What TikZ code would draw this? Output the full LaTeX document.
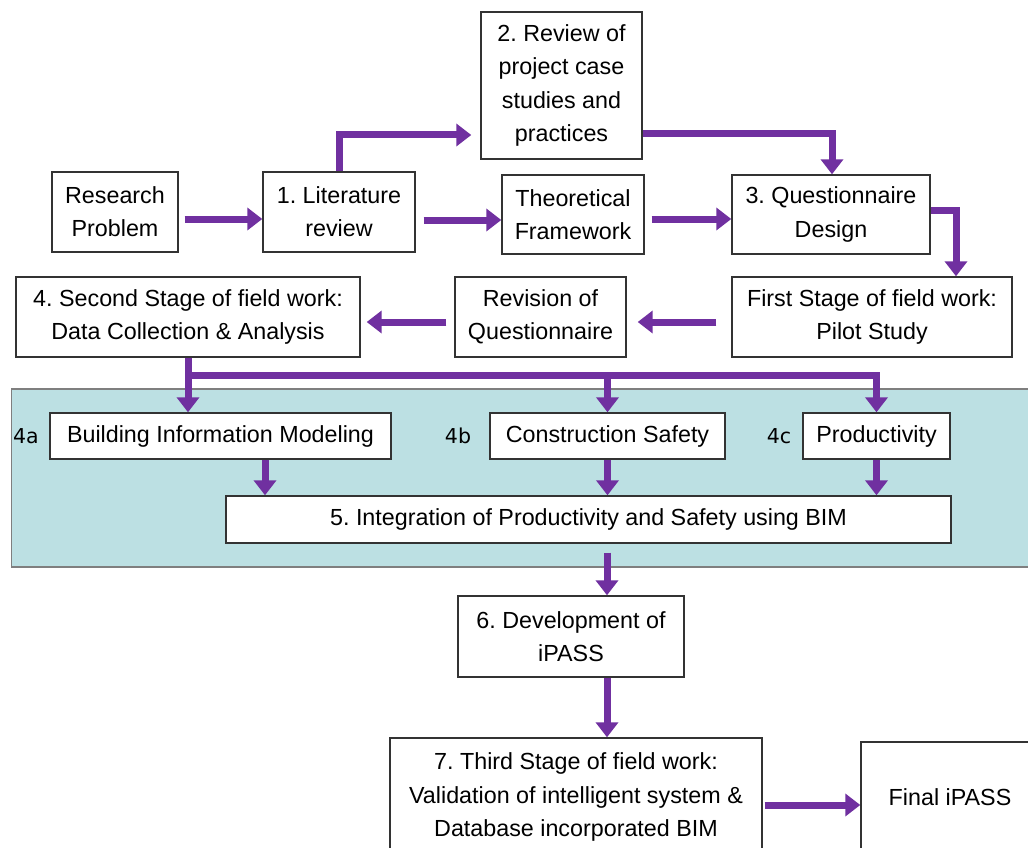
\documentclass[tikz,border=0pt]{standalone}
\usepackage{fontspec}
\setmainfont{Liberation Sans}
\newfontfamily\labfont{DejaVu Sans}
\usetikzlibrary{arrows.meta,calc}
\definecolor{arrowpurple}{HTML}{7030A0}
\definecolor{bandcyan}{HTML}{BCE0E3}
\definecolor{boxline}{HTML}{333333}
\definecolor{bandline}{HTML}{7F7F7F}
\frenchspacing
\begin{document}
\begin{tikzpicture}[x=1pt,y=-1pt,
  stepbox/.style={draw=boxline,line width=1.4pt,fill=white,inner sep=0pt,align=center,
    font=\fontsize{23.3}{33.3}\selectfont},
  arr/.style={draw=arrowpurple,line width=7pt,-{Triangle[length=15pt,width=22pt]}},
  barline/.style={draw=arrowpurple,line width=7pt,line cap=rect},
  lab/.style={font=\labfont\fontsize{20.5}{24}\selectfont,inner sep=0pt}]
\useasboundingbox (0,0) rectangle (1028,848);
\fill[white] (0,0) rectangle (1028,848);
% band
\filldraw[fill=bandcyan,draw=bandline,line width=1.5pt] (11.5,389) rectangle (1040,567);
% boxes
\node[stepbox,minimum width=126pt,minimum height=80pt] (rp) at (115,212) {Research\\Problem};
\node[stepbox,minimum width=152pt,minimum height=80pt] (lit) at (339,212) {1. Literature\\review};
\node[stepbox,minimum width=161pt,minimum height=147pt] (rev2) at (561.5,85.5) {2. Review of\\project case\\studies and\\practices};
\node[stepbox,minimum width=142pt,minimum height=79pt] (tf) at (573,214.5) {Theoretical\\Framework};
\node[stepbox,minimum width=198pt,minimum height=79pt] (q3) at (831,214.5) {3. Questionnaire\\Design};
\node[stepbox,minimum width=280pt,minimum height=80pt] (fs) at (872,317) {First Stage of field work:\\Pilot Study};
\node[stepbox,minimum width=171pt,minimum height=80pt] (rq) at (540.5,317) {Revision of\\Questionnaire};
\node[stepbox,minimum width=344pt,minimum height=80pt] (s4) at (188,317) {4. Second Stage of field work:\\Data Collection \& Analysis};
\node[stepbox,minimum width=341pt,minimum height=46pt] (bim) at (220.5,436) {Building Information Modeling};
\node[stepbox,minimum width=235pt,minimum height=46pt] (cs) at (607.5,436) {Construction Safety};
\node[stepbox,minimum width=147pt,minimum height=46pt] (pr) at (876.5,436) {Productivity};
\node[stepbox,minimum width=725pt,minimum height=47pt] (i5) at (588.5,519.5) {5. Integration of Productivity and Safety using BIM};
\node[stepbox,minimum width=226pt,minimum height=81pt] (d6) at (571,636.5) {6. Development of\\iPASS};
\node[stepbox,minimum width=372pt,minimum height=118pt] (t7) at (576,797) {7. Third Stage of field work:\\Validation of intelligent system \&\\Database incorporated BIM};
\node[stepbox,minimum width=178pt,minimum height=110pt] (fin) at (950,797) {Final iPASS};
% labels
\node[lab] (l4a) at (26,436) {4a};
\node[lab] (l4b) at (458,436) {4b};
\node[lab] (l4c) at (779,436) {4c};
% connectors
\draw[arr] ([shift={(6,7)}]rp.east) -- ([shift={(0,7)}]lit.west);
\draw[arr] (lit.north) |- ([shift={(-9,49.5)}]rev2.west);
\draw[arr] ([shift={(8,8)}]lit.east) -- ([shift={(0,5.5)}]tf.west);
\draw[arr] ([shift={(0,48.5)}]rev2.east) -| ([xshift=1]q3.north);
\draw[arr] ([shift={(7,4.5)}]tf.east) -- ([shift={(0,4.5)}]q3.west);
\draw[arr] ([shift={(0,-4.5)}]q3.east) -| ([xshift=84]fs.north);
\draw[arr] ([shift={(-15,5)}]fs.west) -- ([shift={(11,5)}]rq.east);
\draw[arr] ([shift={(-8,5)}]rq.west) -- ([shift={(6,5)}]s4.east);
\coordinate (bar) at (188,375);
\draw[barline] (s4.south |- bar) -- (pr.north |- bar);
\draw[arr] (s4.south) -- (s4.south |- bim.north);
\draw[arr] (cs.north |- bar) -- (cs.north);
\draw[arr] (pr.north |- bar) -- (pr.north);
\draw[arr] ([xshift=44.5]bim.south) -- ([xshift=44.5]bim.south |- i5.north);
\draw[arr] (cs.south) -- (cs.south |- i5.north);
\draw[arr] (pr.south) -- (pr.south |- i5.north);
\draw[arr] ([shift={(18.5,9)}]i5.south) -- ([xshift=36]d6.north);
\draw[arr] ([xshift=36]d6.south) -- ([xshift=36]d6.south |- t7.north);
\draw[arr] ([shift={(2,8)}]t7.east) -- ([shift={(0,8)}]fin.west);
\end{tikzpicture}
\end{document}
